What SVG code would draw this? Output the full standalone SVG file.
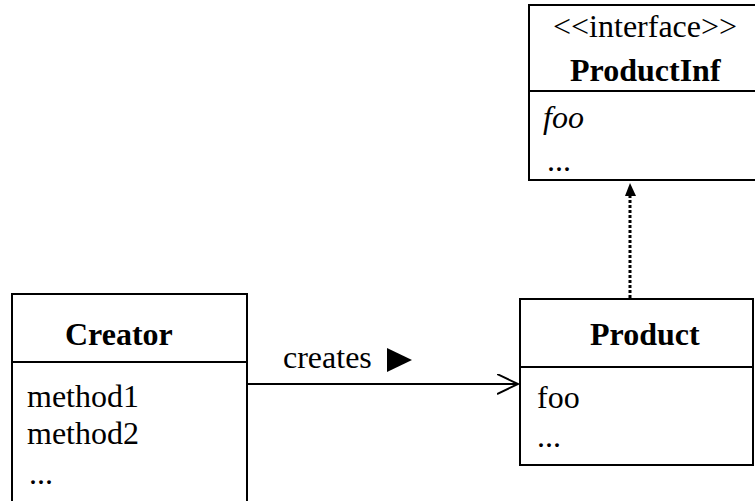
<svg xmlns="http://www.w3.org/2000/svg" width="755" height="501" viewBox="0 0 755 501">
<defs>
<style>
.box{fill:#fff;stroke:#000;stroke-width:2}
.div{stroke:#000;stroke-width:2}
.t{font-family:"Liberation Serif","Times New Roman",serif;font-size:32px;fill:#000}
.b{font-weight:bold}
.i{font-style:italic}
</style>
<marker id="open" markerWidth="24" markerHeight="24" refX="21" refY="10" orient="auto" markerUnits="userSpaceOnUse">
<path d="M0,0 L21,10 L0,20" fill="none" stroke="#000" stroke-width="2"/>
</marker>
</defs>
<rect width="755" height="501" fill="#fff"/>
<g id="connectors">
<line x1="247" y1="384" x2="518" y2="384" stroke="#000" stroke-width="2" marker-end="url(#open)"/>
<line x1="630" y1="298" x2="630" y2="194" stroke="#000" stroke-width="3" stroke-dasharray="3 2"/>
<polygon points="630,183 625,196 636,196" fill="#000"/>
<text class="t" x="283" y="368">creates</text>
<polygon points="387,348 412,360 387,372" fill="#000"/>
</g>
<g id="productinf">
<rect class="box" x="529" y="5" width="240" height="175"/>
<line class="div" x1="529" y1="91" x2="769" y2="91"/>
<text class="t" x="553" y="37">&lt;&lt;interface&gt;&gt;</text>
<text class="t b" x="570" y="81">ProductInf</text>
<text class="t i" x="543" y="128">foo</text>
<text class="t" x="547" y="171">...</text>
</g>
<g id="creator">
<rect class="box" x="12" y="294" width="235" height="220"/>
<line class="div" x1="12" y1="362" x2="247" y2="362"/>
<text class="t b" x="65" y="345">Creator</text>
<text class="t" x="27" y="407">method1</text>
<text class="t" x="27" y="444">method2</text>
<text class="t" x="29" y="484">...</text>
</g>
<g id="product">
<rect class="box" x="520" y="299" width="233" height="166"/>
<line class="div" x1="520" y1="367" x2="753" y2="367"/>
<text class="t b" x="590" y="345">Product</text>
<text class="t" x="537" y="408">foo</text>
<text class="t" x="537" y="447">...</text>
</g>
</svg>
